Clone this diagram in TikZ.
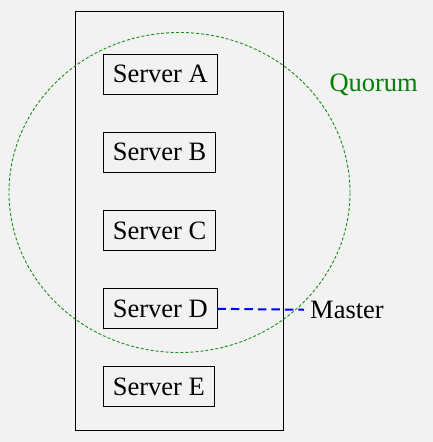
\documentclass[tikz,border=0pt]{standalone}
\usepackage{fontspec}
\setmainfont{Liberation Serif}
\definecolor{quorumgreen}{RGB}{0,128,0}
\definecolor{bgcolor}{RGB}{242,242,242}

\begin{document}
\begin{tikzpicture}[x=1pt, y=-1pt,
    every node/.style={font=\fontsize{26.5}{31}\selectfont},
    server/.style={draw, line width=0.8pt, anchor=west, minimum height=40pt, inner xsep=9.2pt},
    quorumline/.style={draw=quorumgreen!90!white, line width=0.9pt, dash pattern=on 3pt off 2pt},
    masterline/.style={draw=blue, line width=2pt, dash pattern=on 8.5pt off 5pt}]
    % Background and page size
    \fill[bgcolor] (0,0) rectangle (433,442);
    \useasboundingbox (0,0) rectangle (433,442);

    % Cluster frame
    \draw[line width=0.8pt] (75.3,11.3) rectangle (283.3,430);

    % Servers
    \node[server] (srvA) at (103.3,74.3) {Server A};
    \node[server] (srvB) at (103.3,152.3) {Server B};
    \node[server] (srvC) at (103.3,230.8) {Server C};
    \node[server] (srvD) at (103.3,308.8) {Server D};
    \node[server] (srvE) at (103.3,386.8) {Server E};

    % Quorum ellipse
    \draw[quorumline] (179.5,192.5) ellipse [x radius=170.5pt, y radius=160pt];
    \node[text=quorumgreen, anchor=base west, inner sep=0pt] (quorum) at (329.3,91.7) {Quorum};

    % Master
    \node[anchor=base west, inner xsep=6pt, inner ysep=0pt] (master) at (304,318.3) {Master};
    \draw[masterline] (srvD.east) -- (master.west);
\end{tikzpicture}
\end{document}
